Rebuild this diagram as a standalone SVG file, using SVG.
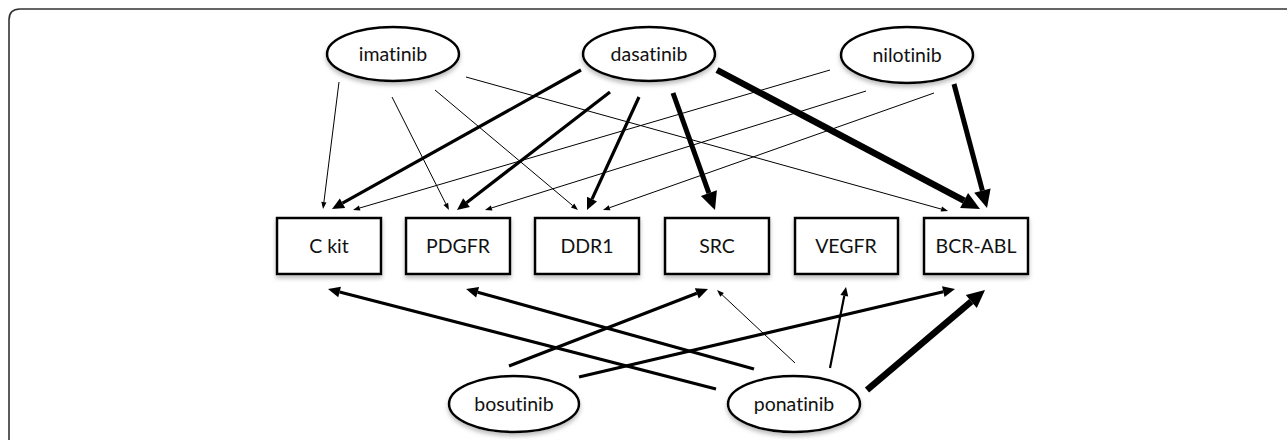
<svg xmlns="http://www.w3.org/2000/svg" width="1287" height="440" viewBox="0 0 1287 440">
<style>
.node ellipse, .node rect { fill: #fff; stroke: #000; stroke-width: 2.5; filter: url(#sh); }
.node text { font-family: Lato, "Open Sans", "Liberation Sans", sans-serif; font-size: 19.5px; fill: #111; text-anchor: middle; font-variant-ligatures: none; font-feature-settings: "liga" 0; }
.e { stroke: #000; fill: none; stroke-linecap: butt; }
.w1 { stroke-width: 1; marker-end: url(#ms); }
.w2 { stroke-width: 2.2; marker-end: url(#mv); }
.w3 { stroke-width: 3.2; marker-end: url(#mm); }
.w5 { stroke-width: 5; marker-end: url(#ml); }
.w6 { stroke-width: 6.5; marker-end: url(#ml); }
</style>
<defs>
<filter id="sh" x="-20%" y="-20%" width="140%" height="150%">
<feDropShadow dx="0" dy="3" stdDeviation="2" flood-color="#888" flood-opacity="0.55"/>
</filter>
<marker id="ms" markerUnits="userSpaceOnUse" orient="auto" refX="0" refY="0" markerWidth="20" markerHeight="20" overflow="visible"><path d="M0,-2.6 L7,0 L0,2.6 z" fill="#000"/></marker>
<marker id="mv" markerUnits="userSpaceOnUse" orient="auto" refX="0" refY="0" markerWidth="20" markerHeight="20" overflow="visible"><path d="M0,-4 L9,0 L0,4 z" fill="#000"/></marker>
<marker id="mm" markerUnits="userSpaceOnUse" orient="auto" refX="0" refY="0" markerWidth="20" markerHeight="20" overflow="visible"><path d="M0,-5.5 L12,0 L0,5.5 z" fill="#000"/></marker>
<marker id="ml" markerUnits="userSpaceOnUse" orient="auto" refX="0" refY="0" markerWidth="30" markerHeight="30" overflow="visible"><path d="M0,-8.5 L18,0 L0,8.5 z" fill="#000"/></marker>
</defs>
<rect width="1287" height="440" fill="#fff"/>
<path d="M9,440 V20 Q9,9 20,9 H1287" fill="none" stroke="#333" stroke-width="1.6"/>
<g id="connectors">
<line class="e w1" x1="339" y1="82" x2="323.9" y2="202.1"/>
<line class="e w1" x1="392" y1="97" x2="445.8" y2="203.8"/>
<line class="e w1" x1="435" y1="90" x2="572.6" y2="205.5"/>
<line class="e w1" x1="466" y1="77" x2="941.3" y2="209.1"/>
<line class="e w3" x1="581" y1="70" x2="342.5" y2="203.2"/>
<line class="e w3" x1="610" y1="92" x2="466.5" y2="202.7"/>
<line class="e w3" x1="639" y1="97" x2="592.0" y2="199.1"/>
<line class="e w5" x1="673" y1="93" x2="708.9" y2="193.1"/>
<line class="e w6" x1="717" y1="70" x2="964.1" y2="200.6"/>
<line class="e w1" x1="830" y1="70" x2="359.7" y2="208.0"/>
<line class="e w1" x1="866" y1="91" x2="491.7" y2="207.9"/>
<line class="e w1" x1="934" y1="93" x2="609.6" y2="207.7"/>
<line class="e w5" x1="954" y1="84" x2="982.4" y2="190.6"/>
<line class="e w3" x1="716" y1="389" x2="339.6" y2="292.0"/>
<line class="e w3" x1="754" y1="369" x2="477.6" y2="292.2"/>
<line class="e w1" x1="795" y1="363" x2="722.1" y2="294.8"/>
<line class="e w2" x1="830" y1="368" x2="844.3" y2="295.8"/>
<line class="e w6" x1="867" y1="390" x2="971.3" y2="301.6"/>
<line class="e w3" x1="509" y1="366" x2="696.8" y2="293.3"/>
<line class="e w3" x1="579" y1="377" x2="943.3" y2="291.7"/>
</g>
<g id="imatinib" class="node"><ellipse cx="393" cy="54" rx="66" ry="27"/><text x="393" y="61">imatinib</text></g>
<g id="dasatinib" class="node"><ellipse cx="649" cy="54" rx="66" ry="27"/><text x="649" y="61">dasatinib</text></g>
<g id="nilotinib" class="node"><ellipse cx="907" cy="55" rx="66" ry="28"/><text x="907" y="62">nilotinib</text></g>
<g id="ckit" class="node"><rect x="277" y="218" width="104" height="56"/><text x="329" y="253">C kit</text></g>
<g id="pdgfr" class="node"><rect x="406" y="218" width="104" height="56"/><text x="458" y="253">PDGFR</text></g>
<g id="ddr1" class="node"><rect x="535" y="218" width="104" height="56"/><text x="587" y="253">DDR1</text></g>
<g id="src" class="node"><rect x="665" y="218" width="104" height="56"/><text x="717" y="253">SRC</text></g>
<g id="vegfr" class="node"><rect x="795" y="218" width="103" height="56"/><text x="846" y="253">VEGFR</text></g>
<g id="bcrabl" class="node"><rect x="924" y="218" width="104" height="56"/><text x="976" y="253">BCR-ABL</text></g>
<g id="bosutinib" class="node"><ellipse cx="514" cy="404" rx="65" ry="28"/><text x="514" y="411">bosutinib</text></g>
<g id="ponatinib" class="node"><ellipse cx="794" cy="404" rx="66" ry="28"/><text x="794" y="411">ponatinib</text></g>
</svg>
